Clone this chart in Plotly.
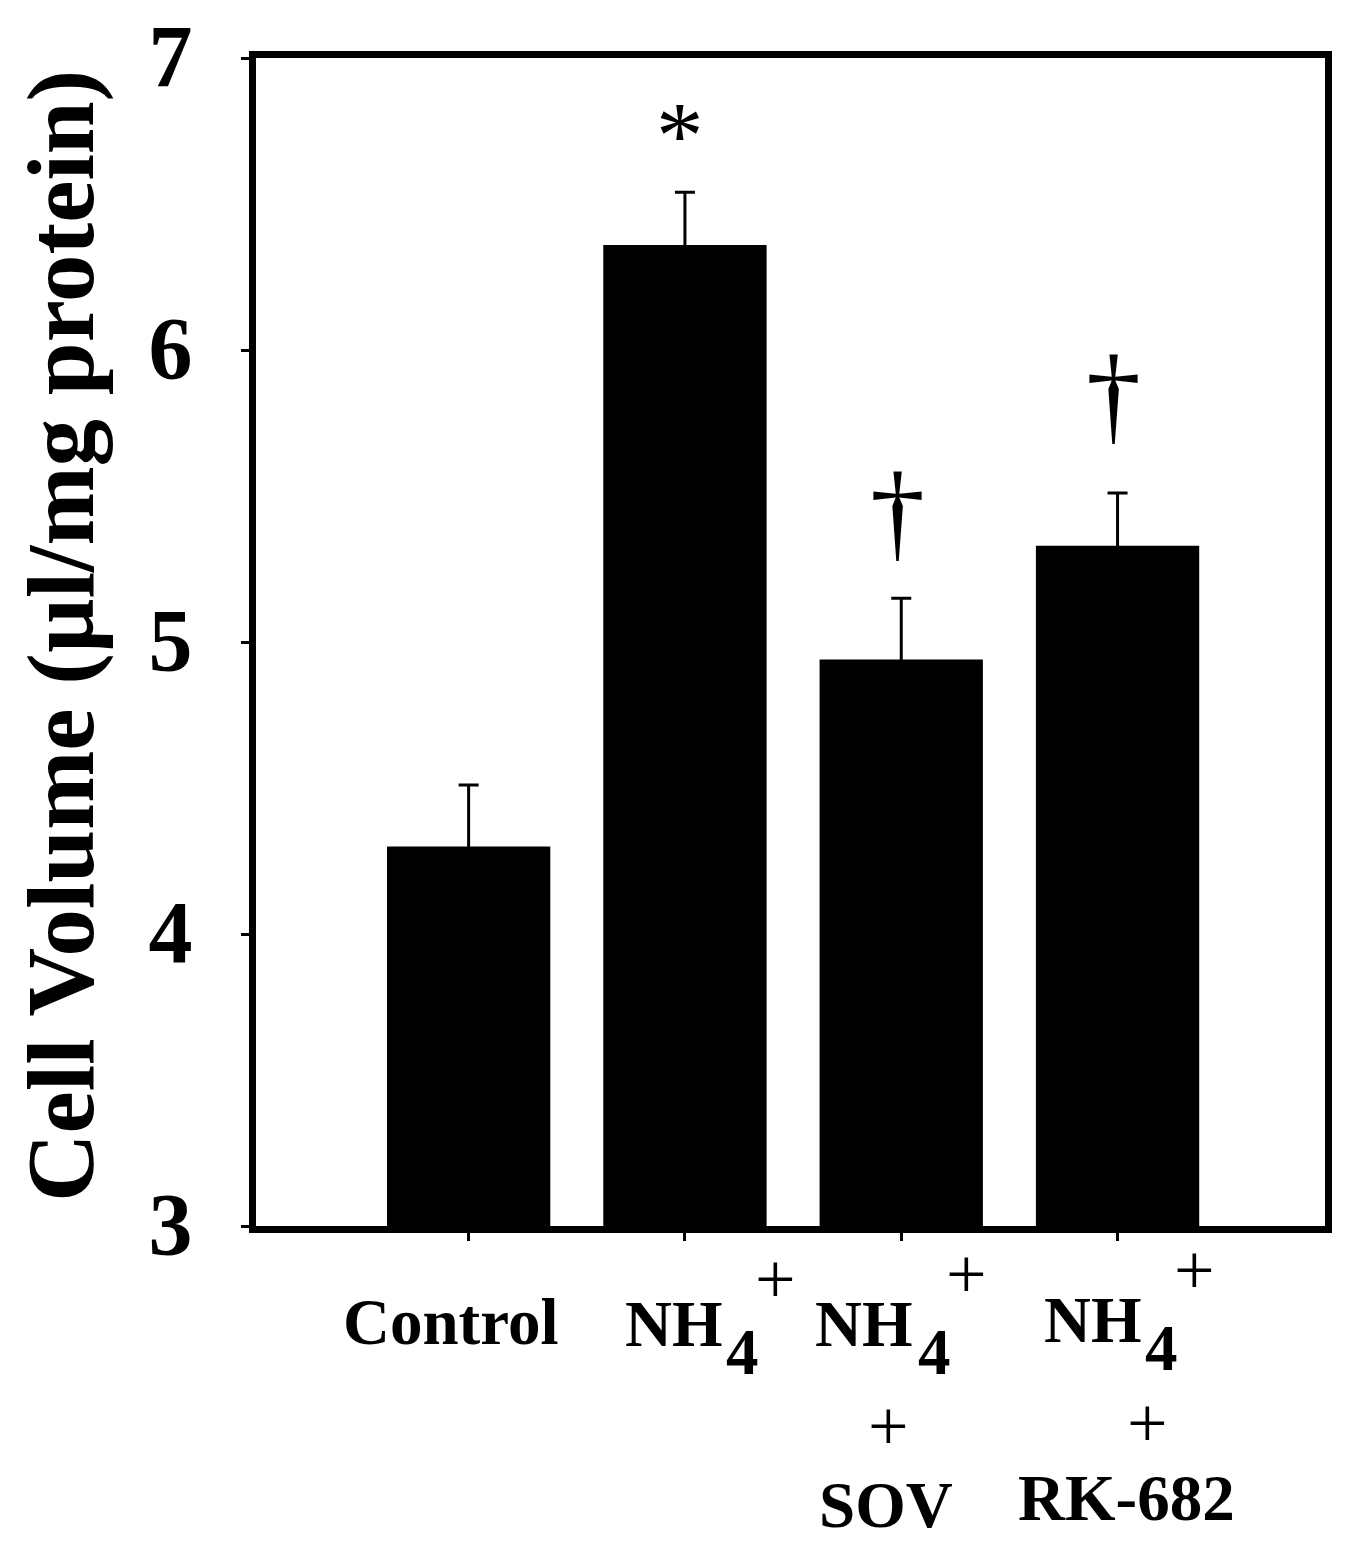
import plotly.graph_objects as go

# Cell volume per group (mean + SEM)
CATEGORIES = ["Control", "NH4+", "NH4+ + SOV", "NH4+ + RK-682"]
MEANS = [4.30, 6.36, 4.94, 5.33]
SEMS = [0.21, 0.18, 0.21, 0.18]
SIG_MARKS = ["", "*", "\u2020", "\u2020"]
Y_TICKS = [3, 4, 5, 6, 7]

SERIF = "Liberation Serif, Times New Roman, serif"

fig = go.Figure(go.Bar(
    x=CATEGORIES,
    y=MEANS,
    width=0.755,
    marker=dict(color="#000000", line=dict(width=0)),
    error_y=dict(type="data", array=SEMS, color="#000000", thickness=3, width=10),
    hoverinfo="x+y",
))

# page body has an 8px margin, so the figure is 8px smaller than the window
fig.update_layout(
    width=1337,
    height=1545,
    margin=dict(l=248, r=20, t=50, b=327),
    paper_bgcolor="#ffffff",
    plot_bgcolor="#ffffff",
    showlegend=False,
    font=dict(family=SERIF, color="#000000"),
)

fig.update_xaxes(
    type="category",
    range=[-0.983, 3.959],
    showticklabels=False,
    automargin=False,
    ticks="outside", ticklen=8, tickwidth=3, tickcolor="#000000",
    showline=True, linewidth=7, linecolor="#000000", mirror=True,
    showgrid=False, zeroline=False,
)

fig.update_yaxes(
    range=[3, 7],
    tickvals=Y_TICKS,
    ticktext=[f"<b>{t}</b>" for t in Y_TICKS],
    tickfont=dict(family=SERIF, size=88, color="#000000"),
    ticklabelstandoff=31,
    ticklabelshift=-3,
    ticklabeloverflow="allow",
    automargin=False,
    ticks="outside", ticklen=8, tickwidth=3, tickcolor="#000000",
    showline=True, linewidth=7, linecolor="#000000", mirror=True,
    showgrid=False, zeroline=False,
)

# y-axis title (placed by hand so it sits like the original)
fig.add_annotation(
    text="<b>Cell Volume (\u00b5l/mg protein)</b>",
    textangle=-90,
    xref="paper", yref="paper", x=0, y=0.5,
    xanchor="center", yanchor="middle",
    xshift=-195, yshift=6,
    borderpad=0, borderwidth=0,
    showarrow=False,
    font=dict(family=SERIF, size=95, color="#000000"),
)

# significance marks above the error bars
sig_offsets = [None, (-5, 56, 95), (-4, 87, 110), (-4, 99, 110)]
for cat, m, e, mark, off in zip(CATEGORIES, MEANS, SEMS, SIG_MARKS, sig_offsets):
    if not mark:
        continue
    dx, dy, size = off
    fig.add_annotation(
        text=mark, x=cat, y=m + e, xref="x", yref="y",
        xanchor="center", yanchor="middle", xshift=dx, yshift=dy,
        showarrow=False,
        font=dict(family=SERIF, size=size, color="#000000"),
    )


def xlabel(cat, text, dx, dy, anchor="center", size=65, bold=True):
    fig.add_annotation(
        text=f"<b>{text}</b>" if bold else text,
        x=cat, y=0, xref="x", yref="paper",
        xanchor=anchor, yanchor="middle",
        xshift=dx, yshift=-dy,
        showarrow=False,
        font=dict(family=SERIF, size=size, color="#000000"),
    )


# category labels under the axis (NH4+ drawn as NH + big subscript 4 + superscript +)
xlabel(CATEGORIES[0], "Control", -18, 96)

xlabel(CATEGORIES[1], "NH", 40, 98, anchor="right")
xlabel(CATEGORIES[1], "4", 39, 126, anchor="left")
xlabel(CATEGORIES[1], "+", 91, 53, size=72, bold=False)

xlabel(CATEGORIES[2], "NH", 14, 98, anchor="right")
xlabel(CATEGORIES[2], "4", 15, 126, anchor="left")
xlabel(CATEGORIES[2], "+", 65, 48, size=72, bold=False)
xlabel(CATEGORIES[2], "+", -13, 200, size=72, bold=False)
xlabel(CATEGORIES[2], "SOV", -15, 279)

xlabel(CATEGORIES[3], "NH", 26, 94, anchor="right")
xlabel(CATEGORIES[3], "4", 25, 122, anchor="left")
xlabel(CATEGORIES[3], "+", 77, 44, size=72, bold=False)
xlabel(CATEGORIES[3], "+", 30, 197, size=72, bold=False)
xlabel(CATEGORIES[3], "RK-682", 9, 272)

fig.write_html("out.html")
